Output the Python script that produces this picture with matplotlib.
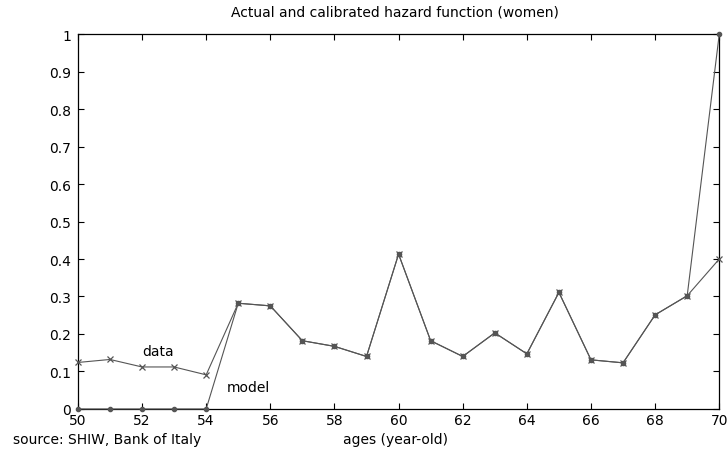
import matplotlib
matplotlib.use("Agg")
import matplotlib.pyplot as plt

ages = list(range(50, 71))
data = [0.124, 0.132, 0.112, 0.112, 0.091, 0.282, 0.275, 0.182, 0.167, 0.140,
        0.413, 0.182, 0.140, 0.203, 0.147, 0.311, 0.131, 0.123, 0.251, 0.302, 0.400]
model = [0.0, 0.0, 0.0, 0.0, 0.0, 0.282, 0.275, 0.182, 0.167, 0.140,
         0.413, 0.182, 0.140, 0.203, 0.147, 0.311, 0.131, 0.123, 0.251, 0.302, 1.0]
xticks = list(range(50, 71, 2))
yticks = [round(0.1 * i, 1) for i in range(11)]

plt.rcParams['font.family'] = ['DejaVu Sans']
fs = 10

fig = plt.figure(figsize=(7.28, 4.56), dpi=100)
ax = fig.add_axes([0.107, 0.101, 0.881, 0.822])

line_col = '#555555'
ax.plot(ages, model, color=line_col, lw=0.8, marker='o', ms=3, mfc=line_col, mec=line_col,
        clip_on=False, zorder=3)
ax.plot(ages, data, color=line_col, lw=0.8, marker='x', ms=4, mew=0.9, clip_on=False, zorder=3)

ax.set_xlim(50, 70)
ax.set_ylim(0, 1)
ax.set_xticks(xticks)
ax.set_xticklabels([str(t) for t in xticks], fontsize=fs)
ax.set_yticks(yticks)
ax.set_yticklabels(['0' if t == 0 else ('1' if t == 1 else f'{t:g}') for t in yticks], fontsize=fs)
ax.tick_params(direction='in', top=True, right=True, length=4, width=0.8, colors='black')
ax.tick_params(axis='y', pad=5)
ax.tick_params(axis='x', pad=3)
for s in ax.spines.values():
    s.set_linewidth(0.9)
    s.set_zorder(2)

fig.text(0.543, 0.973, 'Actual and calibrated hazard function (women)', fontsize=fs,
         ha='center', va='center')
fig.text(0.543, 0.035, 'ages (year-old)', fontsize=fs, ha='center', va='center')
ax.text(52.5, 0.155, 'data', fontsize=fs, ha='center', va='center')
ax.text(54.65, 0.059, 'model', fontsize=fs, ha='left', va='center')
fig.text(0.018, 0.035, 'source: SHIW, Bank of Italy', fontsize=fs, ha='left', va='center')

fig.savefig('out.png', dpi=100)
